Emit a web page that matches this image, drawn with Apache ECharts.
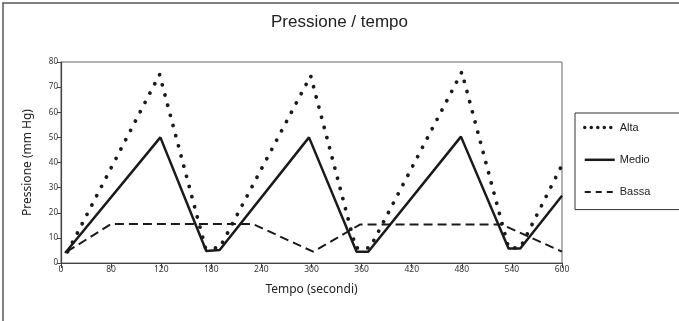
<!DOCTYPE html>
<html>
<head>
<meta charset="utf-8">
<script src="https://cdn.jsdelivr.net/npm/echarts@6/dist/echarts.min.js"></script>
<style>
  html, body { margin: 0; padding: 0; background: #fff; }
  #chart { width: 679px; height: 321px; }
</style>
</head>
<body>
<div id="chart"></div>
<script>
// x tick labels as printed on the original figure
const xTickLabels = ['0', '80', '120', '180', '240', '300', '360', '420', '480', '540', '600'];

// time (s) / pressure (mm Hg)
const altaTime = [8, 118, 173, 190, 299, 353, 370, 480, 536, 550, 600];
const altaValues = [4.5, 75, 6, 6, 74.5, 6, 6, 76, 6, 6, 39];

const medioTime = [5, 119, 174, 190, 297, 354, 368, 479, 536, 550, 600];
const medioValues = [4, 50, 4.8, 5.2, 50, 4.5, 4.5, 50.3, 5.8, 5.8, 26.8];

const bassaTime = [7, 60, 230, 302, 358, 528, 600];
const bassaValues = [4.5, 15.5, 15.5, 4.5, 15.3, 15.3, 4.5];

const pairs = (xs, ys) => xs.map((x, i) => [x, ys[i]]);

const chartDom = document.getElementById('chart');
const myChart = echarts.init(chartDom);

const ink = '#1a1a1a';
const axisColor = '#444';

const option = {
    animation: false,
    backgroundColor: '#fff',
    title: {
        text: 'Pressione / tempo',
        left: 'center',
        top: 9,
        textStyle: {
            fontFamily: 'Liberation Sans',
            fontWeight: 'normal',
            fontSize: 17,
            color: '#222'
        }
    },
    graphic: [
        {
            // outer frame (only top and left visible in the crop)
            type: 'rect',
            shape: { x: 3, y: 3, width: 700, height: 340 },
            style: { fill: null, stroke: '#555', lineWidth: 1.5 },
            silent: true
        }
    ],
    legend: {
        orient: 'vertical',
        left: 575,
        top: 113,
        padding: [9, 40, 12, 8],
        itemWidth: 30,
        itemHeight: 14,
        itemGap: 21,
        borderColor: '#333',
        borderWidth: 1,
        itemStyle: { opacity: 0 },
        textStyle: {
            fontFamily: 'Liberation Sans',
            fontSize: 11,
            color: '#222'
        },
        data: [
            { name: 'Alta', lineStyle: { width: 3.5, type: [0.01, 6.5], cap: 'round' } },
            { name: 'Medio', lineStyle: { width: 2.5 } },
            { name: 'Bassa', lineStyle: { width: 2, type: [6, 5] } }
        ]
    },
    grid: {
        left: 61,
        right: 117,
        top: 62,
        bottom: 58,
        show: true,
        borderColor: '#666',
        borderWidth: 1
    },
    xAxis: {
        type: 'value',
        min: 0,
        max: 600,
        interval: 60,
        name: 'Tempo (secondi)',
        nameLocation: 'middle',
        nameGap: 21,
        nameTextStyle: {
            fontFamily: 'Noto Sans',
            fontSize: 12,
            color: '#222'
        },
        axisLine: { show: true, lineStyle: { color: axisColor, width: 1.2 } },
        axisTick: { show: true, length: 5, inside: false, lineStyle: { color: axisColor } },
        splitLine: { show: false },
        axisLabel: {
            fontFamily: 'Noto Sans',
            fontSize: 8.5,
            color: '#333',
            margin: 2,
            formatter: (v) => xTickLabels[Math.round(v / 60)]
        }
    },
    yAxis: {
        type: 'value',
        min: 0,
        max: 80,
        interval: 10,
        name: 'Pressione (mm Hg)',
        nameLocation: 'middle',
        nameGap: 27,
        nameTextStyle: {
            fontFamily: 'Noto Sans',
            fontSize: 12,
            color: '#222'
        },
        axisLine: { show: true, lineStyle: { color: axisColor, width: 1.2 } },
        axisTick: { show: true, length: 4, lineStyle: { color: axisColor } },
        splitLine: { show: false },
        axisLabel: {
            fontFamily: 'Noto Sans',
            fontSize: 8,
            color: '#333',
            margin: 3
        }
    },
    series: [
        {
            name: 'Alta',
            type: 'line',
            symbol: 'none',
            data: pairs(altaTime, altaValues),
            lineStyle: { color: ink, width: 3.8, type: [0.01, 10.5], cap: 'round' },
            itemStyle: { color: ink },
            z: 3
        },
        {
            name: 'Medio',
            type: 'line',
            symbol: 'none',
            data: pairs(medioTime, medioValues),
            lineStyle: { color: ink, width: 2.5 },
            itemStyle: { color: ink },
            z: 4
        },
        {
            name: 'Bassa',
            type: 'line',
            symbol: 'none',
            data: pairs(bassaTime, bassaValues),
            lineStyle: { color: ink, width: 2, type: [9, 5] },
            itemStyle: { color: ink },
            z: 2
        }
    ]
};

option && myChart.setOption(option);
</script>
</body>
</html>
